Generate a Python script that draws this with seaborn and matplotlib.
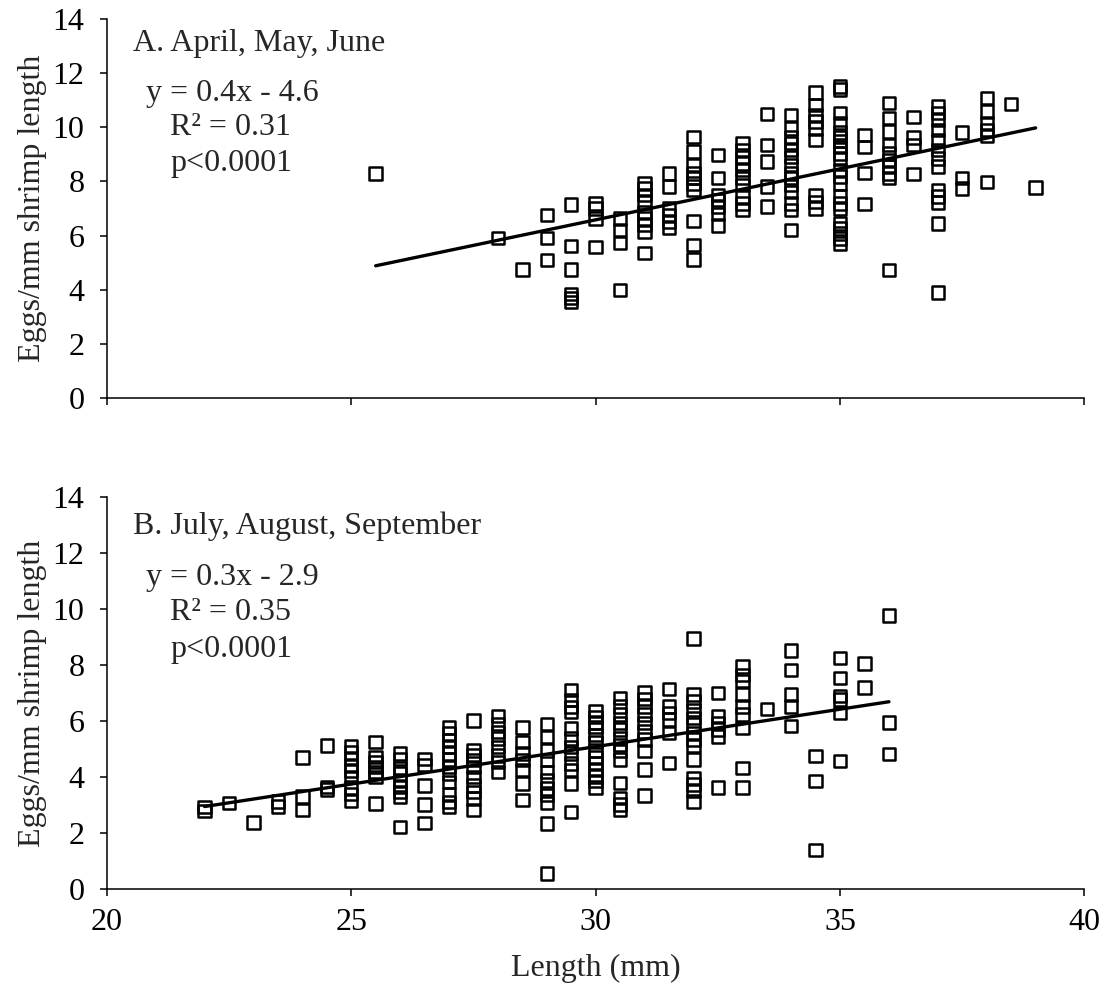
import pandas as pd
import seaborn as sns
import matplotlib
matplotlib.use('Agg')
import matplotlib.pyplot as plt

# A. April, May, June : shrimp length (mm) and the eggs/mm values measured at that length
a_lengths = [25.5, 28.0, 28.5, 29.0, 29.5, 30.0, 30.5, 31.0, 31.5, 32.0, 32.5, 33.0,
             33.5, 34.0, 34.5, 35.0, 35.5, 36.0, 36.5, 37.0, 37.5, 38.0, 38.5, 39.0]
a_eggs = [
    [8.3],
    [5.92],
    [4.75],
    [6.76, 5.92, 5.10],
    [7.15, 5.63, 4.75, 3.85, 3.70, 3.55],
    [7.19, 7.0, 6.64, 5.59],
    [6.64, 6.21, 5.74, 3.99],
    [7.93, 7.74, 7.50, 7.22, 6.88, 6.64, 6.39, 6.14, 5.37],
    [8.30, 7.81, 7.01, 6.76, 6.51, 6.29],
    [9.65, 9.10, 8.61, 8.30, 8.12, 7.93, 7.68, 6.55, 5.65, 5.12],
    [8.98, 8.12, 7.50, 7.31, 7.07, 6.80, 6.37],
    [9.41, 9.16, 8.91, 8.67, 8.42, 8.12, 7.87, 7.44, 7.19, 6.95],
    [10.49, 9.35, 8.73, 7.81, 7.07],
    [10.45, 9.96, 9.65, 9.41, 9.16, 8.91, 8.61, 8.30, 8.12, 7.87, 7.62, 7.19, 6.95, 6.21],
    [11.29, 10.82, 10.45, 10.21, 9.96, 9.53, 7.50, 7.25, 7.01],
    [11.50, 11.40, 10.52, 10.15, 9.80, 9.65, 9.50, 9.28, 9.04, 8.85, 8.42, 8.18, 7.93,
     7.44, 7.19, 7.01, 6.45, 6.27, 6.08, 5.90, 5.71],
    [9.72, 9.28, 8.32, 7.17],
    [10.89, 10.34, 9.84, 9.35, 9.04, 8.79, 8.55, 8.30, 8.12, 4.73],
    [10.37, 9.63, 9.35, 8.27],
    [10.76, 10.52, 10.27, 9.90, 9.53, 9.16, 8.85, 8.55, 7.68, 7.44, 7.22, 6.45, 3.90],
    [9.80, 8.12, 7.74],
    [11.07, 10.58, 10.15, 9.90, 9.68, 7.99],
    [10.86],
    [7.78],
]

# B. July, August, September
b_lengths = [22.0, 22.5, 23.0, 23.5, 24.0, 24.5, 25.0, 25.5, 26.0, 26.5, 27.0, 27.5,
             28.0, 28.5, 29.0, 29.5, 30.0, 30.5, 31.0, 31.5, 32.0, 32.5, 33.0, 33.5,
             34.0, 34.5, 35.0, 35.5, 36.0]
b_eggs = [
    [2.92, 2.78],
    [3.06],
    [2.38],
    [3.13, 2.95],
    [4.70, 3.30, 2.82],
    [5.12, 3.65, 3.55],
    [5.10, 4.88, 4.64, 4.40, 4.23, 4.0, 3.63, 3.40, 3.15],
    [5.25, 4.71, 4.54, 4.36, 4.18, 4.0, 3.05],
    [4.83, 4.65, 4.30, 4.12, 3.88, 3.64, 3.46, 3.29, 2.21],
    [4.65, 4.42, 3.70, 3.02, 2.36],
    [5.76, 5.55, 5.31, 5.07, 4.83, 4.62, 4.36, 4.12, 3.82, 3.40, 3.11, 2.93],
    [6.02, 4.95, 4.77, 4.60, 4.36, 4.0, 3.70, 3.46, 3.23, 2.81],
    [6.17, 5.90, 5.61, 5.37, 5.07, 4.77, 4.54, 4.18],
    [5.76, 5.25, 4.83, 4.60, 4.24, 3.76, 3.17],
    [5.90, 5.43, 4.95, 4.60, 4.18, 3.88, 3.58, 3.35, 3.07, 2.33, 0.55],
    [7.10, 6.74, 6.50, 6.32, 5.73, 5.37, 5.07, 4.83, 4.48, 4.24, 3.76, 2.75],
    [6.35, 6.15, 5.95, 5.78, 5.50, 5.25, 4.95, 4.71, 4.50, 4.25, 4.02, 3.86, 3.62],
    [6.82, 6.52, 6.23, 5.93, 5.69, 5.39, 5.15, 4.92, 4.62, 3.79, 3.25, 3.01, 2.83],
    [7.02, 6.79, 6.52, 6.23, 5.93, 5.63, 5.33, 4.92, 4.26, 3.33],
    [7.14, 6.52, 6.29, 6.05, 5.57, 4.50],
    [8.94, 6.94, 6.70, 6.40, 6.11, 5.87, 5.57, 5.33, 5.10, 4.62, 3.96, 3.73, 3.49, 3.13],
    [7.0, 6.17, 5.93, 5.69, 5.45, 3.63],
    [7.95, 7.65, 7.42, 6.94, 6.52, 6.23, 5.75, 4.32, 3.63],
    [6.43],
    [8.52, 7.83, 6.94, 6.52, 5.83],
    [4.74, 3.85, 1.40],
    [8.25, 7.54, 6.90, 6.76, 6.29, 4.56],
    [8.05, 7.20],
    [9.76, 5.95, 4.82],
]

a_text = ["A. April, May, June", "y = 0.4x - 4.6", "R\u00b2 = 0.31", "p<0.0001"]
b_text = ["B. July, August, September", "y = 0.3x - 2.9", "R\u00b2 = 0.35", "p<0.0001"]
x_ticks = [20, 25, 30, 35, 40]
y_ticks = [0, 2, 4, 6, 8, 10, 12, 14]


def expand(lengths, eggs):
    rows = [(l, e) for l, col in zip(lengths, eggs) for e in col]
    return pd.DataFrame(rows, columns=["length", "eggs"])


FS = 23

sns.set_style("ticks")
plt.rcParams['font.family'] = ['Liberation Serif', 'DejaVu Serif']
plt.rcParams['font.size'] = FS

fig = plt.figure(figsize=(11.01, 9.91), dpi=100)
ax_a = fig.add_axes([0.097, 0.598, 0.888, 0.383])
ax_b = fig.add_axes([0.097, 0.103, 0.888, 0.3955])


def panel(ax, df, texts, text_y, show_x):
    sns.regplot(data=df, x="length", y="eggs", ax=ax, ci=None, marker="s",
                scatter_kws=dict(facecolors="none", edgecolors="black", s=80,
                                 linewidths=1.8, alpha=1, zorder=3),
                line_kws=dict(color="black", lw=2.4, zorder=4))
    ax.set_xlim(20, 40)
    ax.set_ylim(0, 14)
    ax.set_xticks(x_ticks)
    ax.set_yticks(y_ticks)
    sns.despine(ax=ax)
    for s in ["left", "bottom"]:
        ax.spines[s].set_linewidth(1.1)
        ax.spines[s].set_color("black")
    ax.tick_params(axis="both", direction="out", length=5, width=1.1, color="black",
                   labelsize=FS, labelcolor="black")
    ax.tick_params(axis="y", pad=11)
    ax.tick_params(axis="x", pad=9)
    ax.set_ylabel("Eggs/mm shrimp length", fontsize=FS, labelpad=4)
    if show_x:
        ax.set_xlabel("Length (mm)", fontsize=FS, labelpad=12)
    else:
        ax.set_xlabel("")
        ax.set_xticklabels([])
    ax.text(20.53, text_y[0], texts[0], va="center", ha="left", fontsize=FS)
    ax.text(20.8, text_y[1], texts[1], va="center", ha="left", fontsize=FS)
    ax.text(21.3, text_y[2], texts[2], va="center", ha="left", fontsize=FS)
    ax.text(21.3, text_y[3], texts[3], va="center", ha="left", fontsize=FS)


panel(ax_a, expand(a_lengths, a_eggs), a_text, [13.1, 11.26, 9.98, 8.67], False)
panel(ax_b, expand(b_lengths, b_eggs), b_text, [12.95, 11.14, 9.87, 8.55], True)

fig.savefig("out.png", dpi=100)
